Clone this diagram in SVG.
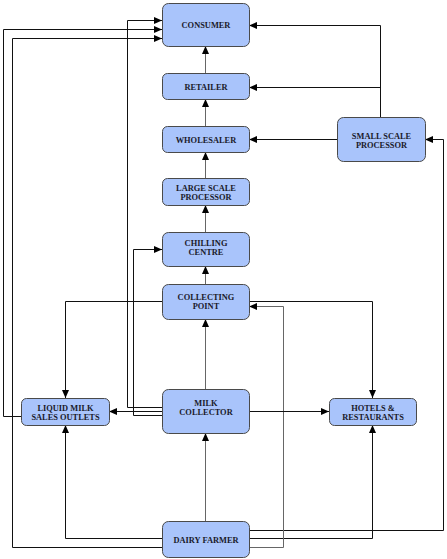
<svg xmlns="http://www.w3.org/2000/svg" width="447" height="559" viewBox="0 0 447 559">
<defs>
<marker id="ah" markerUnits="userSpaceOnUse" markerWidth="8" markerHeight="8" refX="8" refY="4" orient="auto">
<path d="M0,0.5 L8,4 L0,7.5 z" fill="#000"/>
</marker>
<style>
.n rect{fill:#a9c4fb;stroke:#4a4a4a;stroke-width:1}
.n text{font-family:"Liberation Serif","Times New Roman",serif;font-weight:bold;font-size:8.4px;fill:#1a1a2a;text-anchor:middle}
.c path{fill:none;stroke:#111;stroke-width:1;marker-end:url(#ah)}
.c path.g{stroke:#666}
</style>
</defs>
<rect width="447" height="559" fill="#fff"/>
<g class="c" id="connectors">
<path class="g" d="M205.5,521 V433"/>
<path class="g" d="M205.5,389 V319"/>
<path class="g" d="M205.5,284 V266"/>
<path class="g" d="M205.5,232 V205"/>
<path class="g" d="M205.5,178 V152"/>
<path class="g" d="M205.5,126 V99"/>
<path class="g" d="M205.5,73 V46"/>
<path d="M380.5,117 V25.5 H249"/>
<path d="M380.5,87.5 H249"/>
<path d="M337,139.5 H249"/>
<path d="M249,530.5 H443.5 V139.5 H425"/>
<path d="M249,538.5 H372.5 V425"/>
<path class="g" d="M249,547.5 H283.5 V306.5 H249"/>
<path d="M162,538.5 H65.5 V425"/>
<path d="M162,547.5 H12.5 V38.5 H162"/>
<path d="M21,416.5 H3.5 V29.5 H162"/>
<path d="M162,407.5 H127.5 V20.5 H162"/>
<path d="M162,415.5 H133.5 V249.5 H162"/>
<path d="M162,411.5 H109"/>
<path d="M249,411.5 H329"/>
<path d="M162,301.5 H65.5 V398"/>
<path d="M249,301.5 H372.5 V398"/>
</g>
<g class="n" id="consumer"><rect x="162.5" y="3.5" width="87" height="43" rx="6"/><text x="206" y="28">CONSUMER</text></g>
<g class="n" id="retailer"><rect x="162.5" y="73.5" width="87" height="26" rx="5"/><text x="206" y="89.5">RETAILER</text></g>
<g class="n" id="wholesaler"><rect x="162.5" y="126.5" width="87" height="26" rx="5"/><text x="206" y="142.5">WHOLESALER</text></g>
<g class="n" id="large-scale-processor"><rect x="162.5" y="178.5" width="87" height="27" rx="5"/><text x="206" y="191">LARGE SCALE</text><text x="206" y="200">PROCESSOR</text></g>
<g class="n" id="small-scale-processor"><rect x="337.5" y="117.5" width="88" height="44" rx="6"/><text x="381.5" y="138.5">SMALL SCALE</text><text x="381.5" y="147.5">PROCESSOR</text></g>
<g class="n" id="chilling-centre"><rect x="162.5" y="232.5" width="87" height="34" rx="6"/><text x="206" y="246">CHILLING</text><text x="206" y="255">CENTRE</text></g>
<g class="n" id="collecting-point"><rect x="162.5" y="284.5" width="87" height="35" rx="6"/><text x="206" y="300">COLLECTING</text><text x="206" y="309">POINT</text></g>
<g class="n" id="milk-collector"><rect x="162.5" y="389.5" width="87" height="44" rx="6"/><text x="206" y="406">MILK</text><text x="206" y="415">COLLECTOR</text></g>
<g class="n" id="liquid-milk-sales-outlets"><rect x="21.5" y="398.5" width="88" height="27" rx="5"/><text x="65.5" y="411">LIQUID MILK</text><text x="65.5" y="420">SALES OUTLETS</text></g>
<g class="n" id="hotels-restaurants"><rect x="329.5" y="398.5" width="87" height="27" rx="5"/><text x="373" y="411">HOTELS &amp;</text><text x="373" y="420">RESTAURANTS</text></g>
<g class="n" id="dairy-farmer"><rect x="162.5" y="521.5" width="87" height="36" rx="6"/><text x="206" y="542.5">DAIRY FARMER</text></g>
</svg>
